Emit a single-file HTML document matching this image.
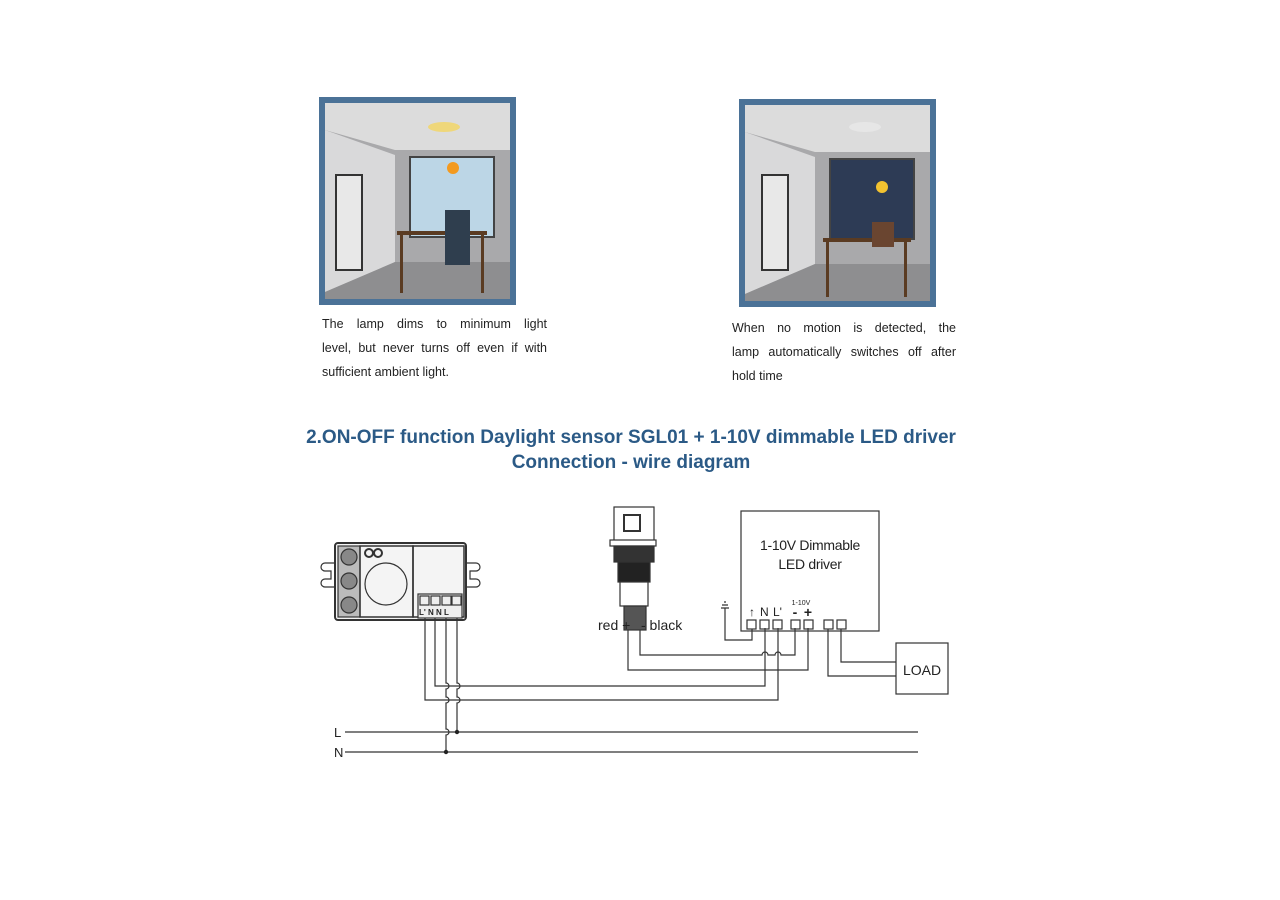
<!DOCTYPE html>
<html><head><meta charset="utf-8"><style>
html,body{margin:0;padding:0;background:#fff;}
body{width:1280px;height:900px;position:relative;overflow:hidden;font-family:"Liberation Sans",sans-serif;}
.cap{position:absolute;font-size:12.5px;line-height:24px;color:#222;}
.cap div{white-space:nowrap;text-align:justify;text-align-last:justify;}
.cap div.l{text-align-last:left;}
.t{position:absolute;left:0;width:1262px;text-align:center;color:#2b5a86;font-weight:bold;font-size:19px;line-height:25px;}
</style></head><body>
<svg width="1280" height="900" style="position:absolute;left:0;top:0" font-family="Liberation Sans, sans-serif">
<!-- left room -->
<rect x="319" y="97" width="197" height="208" fill="#4b7297"/>
<rect x="325" y="103" width="185" height="196" fill="#a9a9ab"/>
<polygon points="325,103 510,103 510,150 395,150 325,130" fill="#dcdcdc"/>
<polygon points="325,130 395,155 395,262 325,292" fill="#d9d9da"/>
<polygon points="325,292 395,262 510,262 510,299 325,299" fill="#8e8e90"/>
<rect x="410" y="157" width="84" height="80" fill="#bcd6e6"/>
<rect x="410" y="157" width="84" height="80" fill="none" stroke="#444" stroke-width="2"/>
<circle cx="453" cy="168" r="6" fill="#f39a1f"/>
<ellipse cx="444" cy="127" rx="16" ry="5" fill="#efd77a"/>
<rect x="336" y="175" width="26" height="95" fill="#e8e8e8" stroke="#333" stroke-width="2"/>
<rect x="397" y="231" width="90" height="4" fill="#5a3b22"/>
<rect x="400" y="235" width="3" height="58" fill="#5a3b22"/><rect x="481" y="235" width="3" height="58" fill="#5a3b22"/>
<rect x="445" y="210" width="25" height="55" fill="#2f3e4e"/>
<!-- right room -->
<rect x="739" y="99" width="197" height="208" fill="#4b7297"/>
<rect x="745" y="105" width="185" height="196" fill="#a9a9ab"/>
<polygon points="745,105 930,105 930,152 815,152 745,132" fill="#dcdcdc"/>
<polygon points="745,132 815,157 815,264 745,294" fill="#d9d9da"/>
<polygon points="745,294 815,264 930,264 930,301 745,301" fill="#8e8e90"/>
<rect x="830" y="159" width="84" height="80" fill="#2d3b55"/>
<rect x="830" y="159" width="84" height="80" fill="none" stroke="#444" stroke-width="2"/>
<circle cx="882" cy="187" r="6" fill="#f2c230"/>
<ellipse cx="865" cy="127" rx="16" ry="5" fill="#e6e6e6"/>
<rect x="762" y="175" width="26" height="95" fill="#e8e8e8" stroke="#333" stroke-width="2"/>
<rect x="823" y="238" width="88" height="4" fill="#5a3b22"/>
<rect x="826" y="242" width="3" height="55" fill="#5a3b22"/><rect x="904" y="242" width="3" height="55" fill="#5a3b22"/>
<rect x="872" y="222" width="22" height="25" fill="#6a4530"/>

<g stroke="#333" fill="none" stroke-width="1.2">
<path d="M335,563 h-10 a4,4 0 0 0 0,8 h6 v8 h-6 a4,4 0 0 0 0,8 h10"/>
<path d="M466,563 h10 a4,4 0 0 1 0,8 h-6 v8 h6 a4,4 0 0 1 0,8 h-10"/>
<rect x="335" y="543" width="131" height="77" rx="3" stroke-width="2" fill="#f4f4f4"/>
<rect x="338" y="546" width="22" height="71" fill="#bbb"/>
<circle cx="349" cy="557" r="8" fill="#888"/><circle cx="349" cy="581" r="8" fill="#888"/><circle cx="349" cy="605" r="8" fill="#888"/>
<rect x="360" y="546" width="53" height="71" stroke-width="1.5"/>
<circle cx="386" cy="584" r="21"/>
<circle cx="369" cy="553" r="4" stroke-width="2"/><circle cx="378" cy="553" r="4" stroke-width="2"/>
<rect x="413" y="546" width="51" height="71" stroke-width="1.5"/>
<rect x="418" y="594" width="44" height="24" fill="#eee"/>
<rect x="420" y="596" width="9" height="9"/><rect x="431" y="596" width="9" height="9"/><rect x="442" y="596" width="9" height="9"/><rect x="452" y="596" width="9" height="9"/>
<path d="M425,618 V700 H778 V628"/>
<path d="M435,618 V686 H765 V628"/>
<path d="M446,618 V683 a3,3 0 0 1 0,6 V697 a3,3 0 0 1 0,6 V729 a3,3 0 0 1 0,6 V752"/>
<path d="M457,618 V683 a3,3 0 0 1 0,6 V697 a3,3 0 0 1 0,6 V732"/>
<path d="M345,732 H918"/><path d="M345,752 H918"/>
<rect x="614" y="507" width="40" height="34" fill="#fff"/>
<rect x="624" y="515" width="16" height="16" stroke-width="2"/>
<rect x="610" y="540" width="46" height="6" fill="#fff"/>
<rect x="614" y="546" width="40" height="16" fill="#333"/>
<rect x="618" y="562" width="32" height="20" fill="#222"/>
<rect x="620" y="582" width="28" height="24" fill="#fff"/>
<rect x="624" y="606" width="22" height="24" fill="#555"/>
<path d="M628,630 V670 H808 V628"/>
<path d="M640,630 V655 H762 a3,3 0 0 1 6,0 H775 a3,3 0 0 1 6,0 H795 V628"/>
<rect x="741" y="511" width="138" height="120"/>
<rect x="747" y="620" width="9" height="9"/><rect x="760" y="620" width="9" height="9"/><rect x="773" y="620" width="9" height="9"/>
<rect x="791" y="620" width="9" height="9"/><rect x="804" y="620" width="9" height="9"/>
<rect x="824" y="620" width="9" height="9"/><rect x="837" y="620" width="9" height="9"/>
<path d="M725,608 V640 H752 V629"/>
<path d="M721,608 h8 M722,605 h6 M724,602 h2"/>
<path d="M828,629 V676 H896"/><path d="M841,629 V662 H896"/>
<rect x="896" y="643" width="52" height="51"/>
</g>
<circle cx="457" cy="732" r="2.2" fill="#222"/><circle cx="446" cy="752" r="2.2" fill="#222"/>
<g fill="#222" font-size="13">
<text x="334" y="737">L</text><text x="334" y="757">N</text>
<text x="434" y="615" font-size="8" font-weight="bold" text-anchor="middle">L' N N L</text>
<text x="598" y="630" font-size="14">red +</text>
<text x="641" y="630" font-size="14">- black</text>
<text x="810" y="550" font-size="14" text-anchor="middle" letter-spacing="-0.3">1-10V Dimmable</text>
<text x="810" y="569" font-size="14" text-anchor="middle" letter-spacing="-0.3">LED driver</text>
<text x="760" y="616" font-size="12">N</text><text x="773" y="616" font-size="12">L'</text>
<text x="801" y="605" font-size="7" text-anchor="middle">1-10V</text>
<text x="795" y="617" font-size="14" font-weight="bold" text-anchor="middle">-</text>
<text x="808" y="617" font-size="14" font-weight="bold" text-anchor="middle">+</text>
<text x="752" y="616" font-size="12" font-weight="bold" text-anchor="middle">↑</text>
<text x="922" y="675" font-size="14" text-anchor="middle">LOAD</text>
</g>
</svg>
<div class="cap" style="left:322px;top:312px;width:225px;"><div>The lamp dims to minimum light</div><div>level, but never turns off even if with</div><div class="l">sufficient ambient light.</div></div>
<div class="cap" style="left:732px;top:316px;width:224px;"><div>When no motion is detected, the</div><div>lamp automatically switches off after</div><div class="l">hold time</div></div>
<div class="t" style="top:425px;">2.ON-OFF function Daylight sensor SGL01 + 1-10V dimmable LED driver</div>
<div class="t" style="top:450px;">Connection - wire diagram</div>
</body></html>
